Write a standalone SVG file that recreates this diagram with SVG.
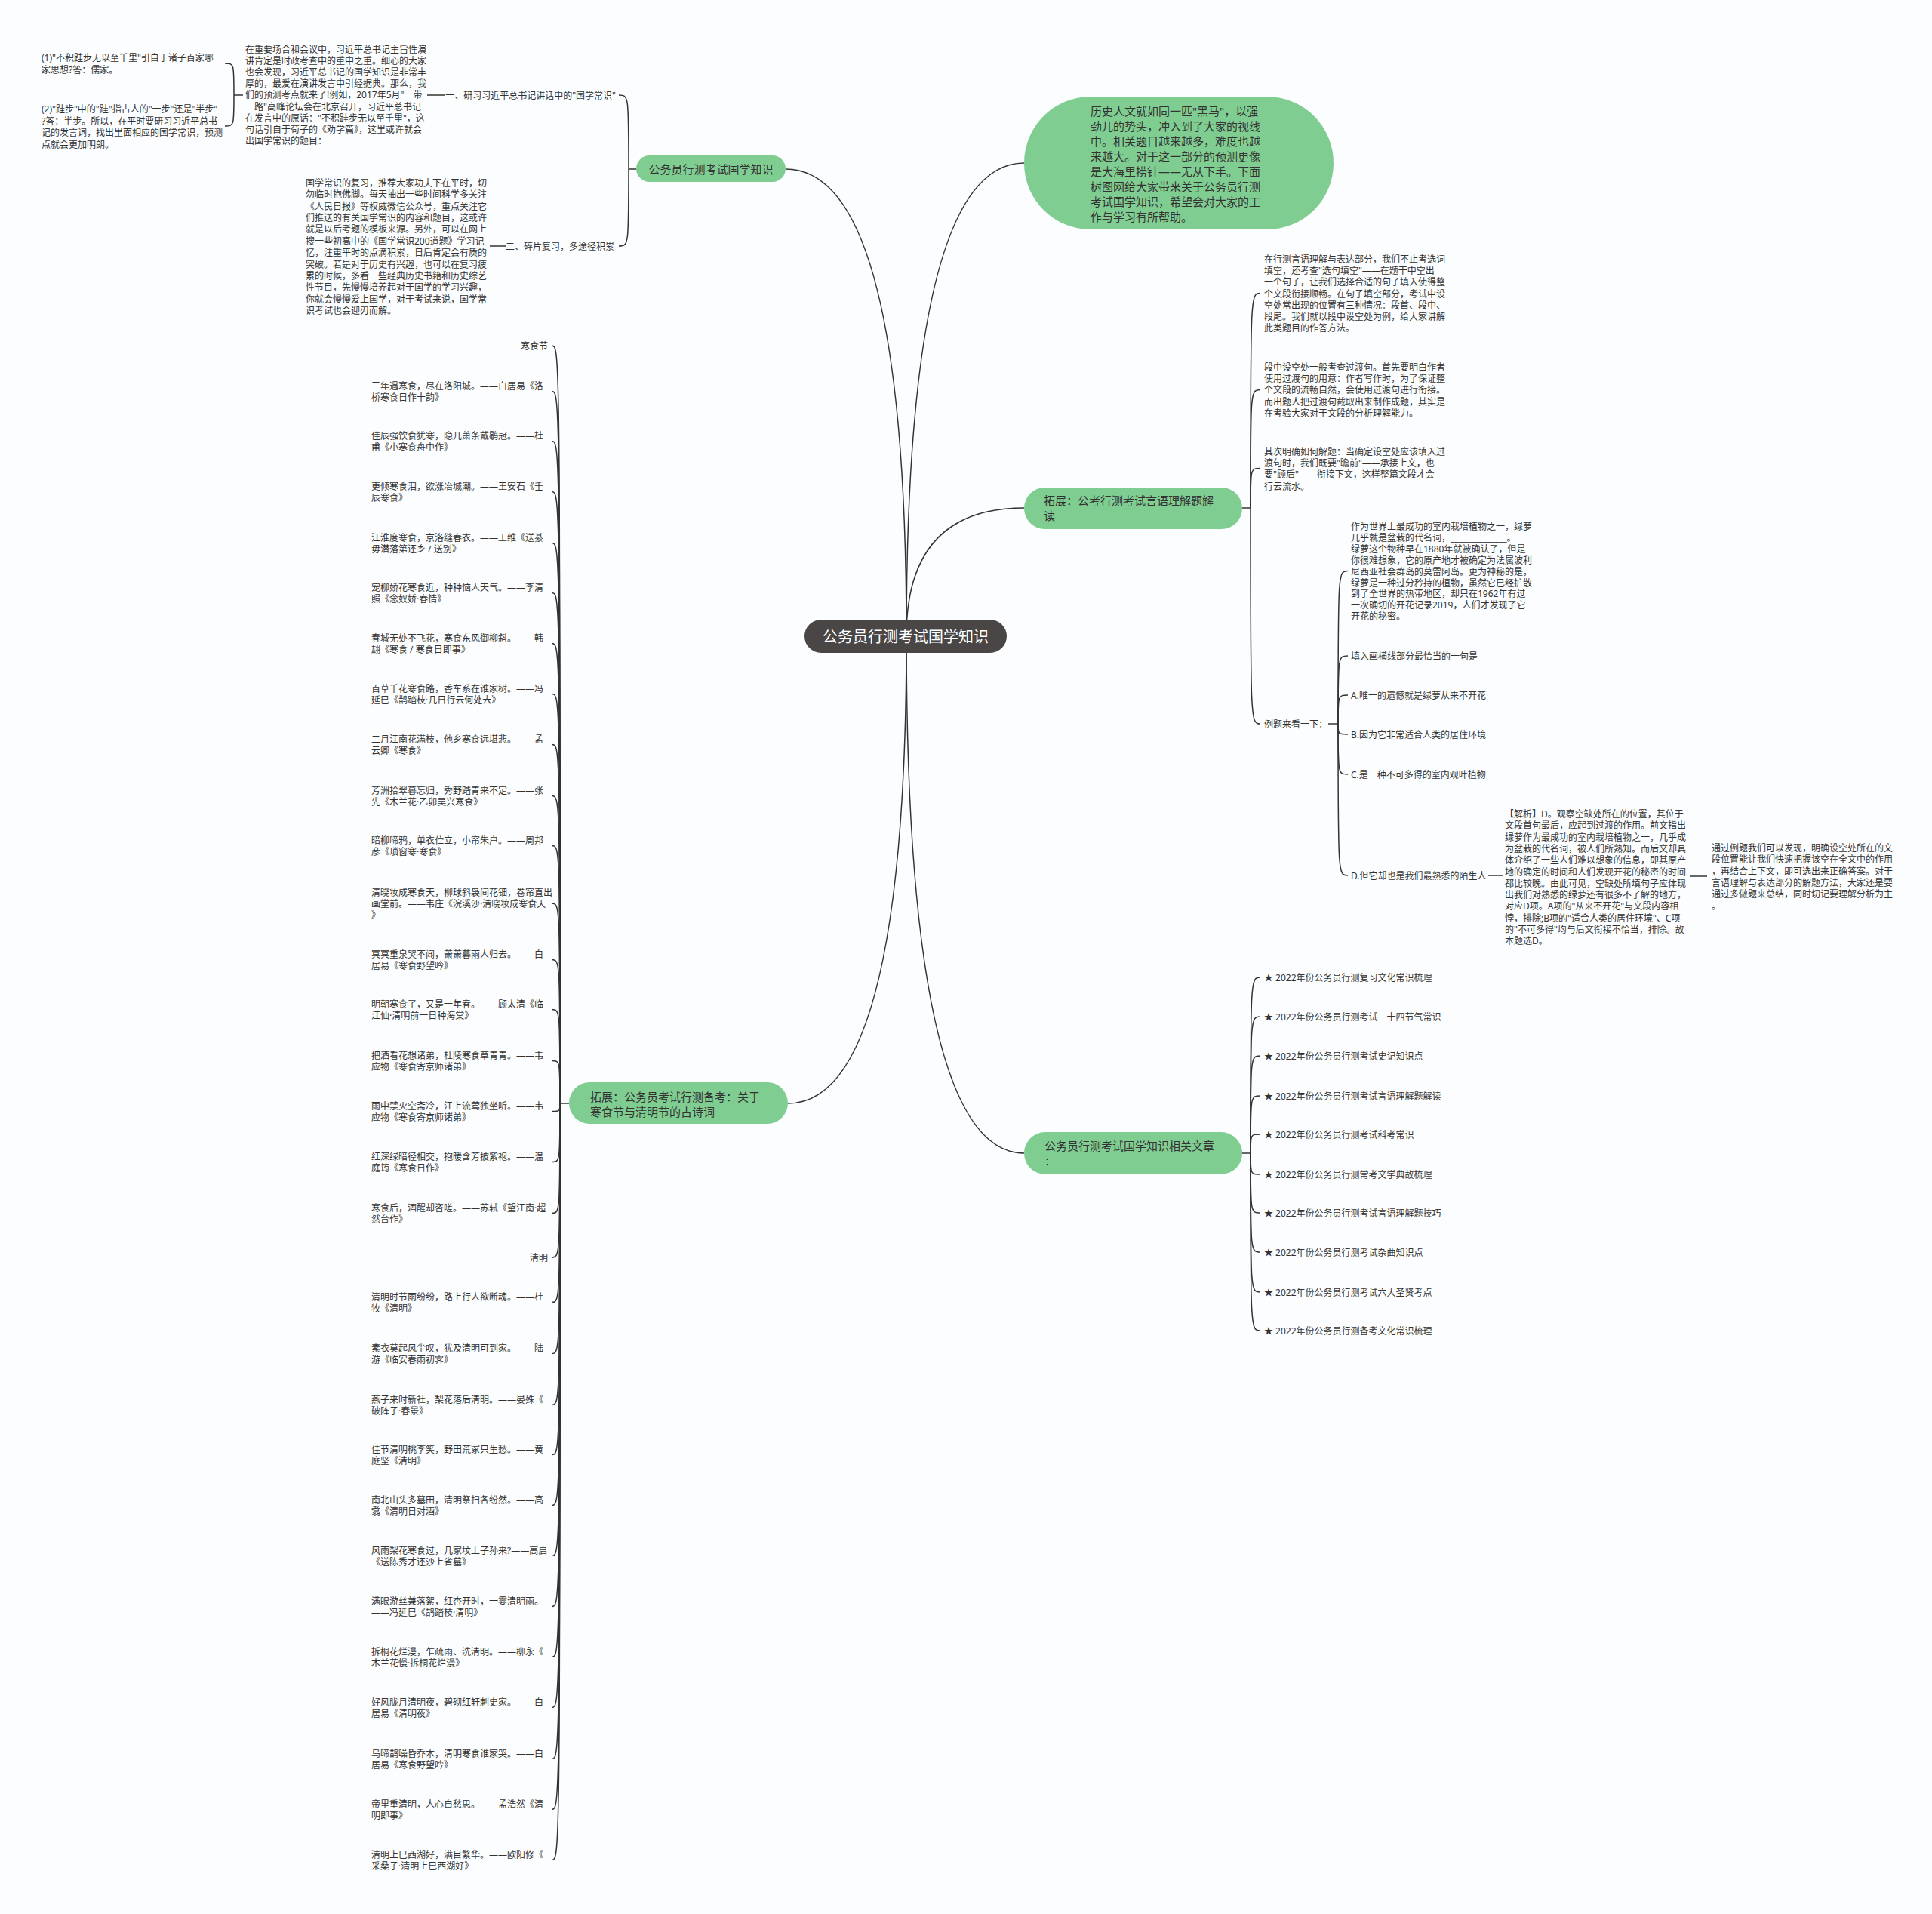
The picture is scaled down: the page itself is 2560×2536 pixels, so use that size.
<svg xmlns="http://www.w3.org/2000/svg" width="2560" height="2536" viewBox="0 0 2560 2536">
<style>
text{font-family:"Noto Sans","Noto Sans CJK SC",sans-serif;fill:#333;dominant-baseline:central}
.s{font-size:12px}
.m{font-size:15px}
.r{font-size:20px;fill:#fff;text-anchor:middle}
.g{fill:#80cd92}
.c{fill:none;stroke:#333;stroke-width:1.5}
.e{text-anchor:end}
</style>
<rect width="2560" height="2536" fill="#fbfdfe"/>
<g id="connectors" class="c">
<path d="M1201 843 Q1201 224 1041 224"/>
<path d="M1201 843 Q1201 216 1357 216"/>
<path d="M1201 843 Q1201 673 1357 673"/>
<path d="M1201 843 Q1201 1462 1044 1462"/>
<path d="M1201 843 Q1201 1528 1357 1528"/>
<path d="M843 224 H833"/>
<path d="M833 224 C833 126 833 126 820 126"/>
<path d="M833 224 C833 326 833 326 820 326"/>
<path d="M590 126 H566"/>
<path d="M670 326 H649"/>
<path d="M322 126 H310"/>
<path d="M310 126 C310 84 310 84 298 84"/>
<path d="M310 126 C310 167 310 167 298 167"/>
<path d="M1646 673 H1657"/>
<path d="M1657 673 C1657 388.5 1657 388.5 1670 388.5"/>
<path d="M1657 673 C1657 516.5 1657 516.5 1670 516.5"/>
<path d="M1657 673 C1657 620.5 1657 620.5 1670 620.5"/>
<path d="M1657 673 C1657 959 1657 959 1670 959"/>
<path d="M1760 959 H1773"/>
<path d="M1773 959 C1773 756.5 1773 756.5 1786 756.5"/>
<path d="M1773 959 C1773 869 1773 869 1786 869"/>
<path d="M1773 959 C1773 921 1773 921 1786 921"/>
<path d="M1773 959 C1773 973 1773 973 1786 973"/>
<path d="M1773 959 C1773 1026 1773 1026 1786 1026"/>
<path d="M1773 959 C1773 1160 1773 1160 1786 1160"/>
<path d="M1972 1160 H1992"/>
<path d="M2240 1161 H2262"/>
<path d="M1646 1528 H1657"/>
<path d="M1657 1528 C1657 1295 1657 1295 1670 1295"/>
<path d="M1657 1528 C1657 1347 1657 1347 1670 1347"/>
<path d="M1657 1528 C1657 1399 1657 1399 1670 1399"/>
<path d="M1657 1528 C1657 1452 1657 1452 1670 1452"/>
<path d="M1657 1528 C1657 1503 1657 1503 1670 1503"/>
<path d="M1657 1528 C1657 1556 1657 1556 1670 1556"/>
<path d="M1657 1528 C1657 1607 1657 1607 1670 1607"/>
<path d="M1657 1528 C1657 1659 1657 1659 1670 1659"/>
<path d="M1657 1528 C1657 1712 1657 1712 1670 1712"/>
<path d="M1657 1528 C1657 1763 1657 1763 1670 1763"/>
<path d="M754 1462 H742"/>
<path d="M742 1462 C742 458 742 458 731 458"/>
<path d="M742 1462 C742 518.5 742 518.5 731 518.5"/>
<path d="M742 1462 C742 584.5 742 584.5 731 584.5"/>
<path d="M742 1462 C742 651.5 742 651.5 731 651.5"/>
<path d="M742 1462 C742 719.5 742 719.5 731 719.5"/>
<path d="M742 1462 C742 785.5 742 785.5 731 785.5"/>
<path d="M742 1462 C742 852.5 742 852.5 731 852.5"/>
<path d="M742 1462 C742 919.5 742 919.5 731 919.5"/>
<path d="M742 1462 C742 986.5 742 986.5 731 986.5"/>
<path d="M742 1462 C742 1054.5 742 1054.5 731 1054.5"/>
<path d="M742 1462 C742 1120.5 742 1120.5 731 1120.5"/>
<path d="M742 1462 C742 1197 742 1197 731 1197"/>
<path d="M742 1462 C742 1271.5 742 1271.5 731 1271.5"/>
<path d="M742 1462 C742 1337.5 742 1337.5 731 1337.5"/>
<path d="M742 1462 C742 1405.5 742 1405.5 731 1405.5"/>
<path d="M742 1462 C742 1472.5 742 1472.5 731 1472.5"/>
<path d="M742 1462 C742 1539.5 742 1539.5 731 1539.5"/>
<path d="M742 1462 C742 1607.5 742 1607.5 731 1607.5"/>
<path d="M742 1462 C742 1666 742 1666 731 1666"/>
<path d="M742 1462 C742 1725.5 742 1725.5 731 1725.5"/>
<path d="M742 1462 C742 1793.5 742 1793.5 731 1793.5"/>
<path d="M742 1462 C742 1861.5 742 1861.5 731 1861.5"/>
<path d="M742 1462 C742 1927.5 742 1927.5 731 1927.5"/>
<path d="M742 1462 C742 1994.5 742 1994.5 731 1994.5"/>
<path d="M742 1462 C742 2061.5 742 2061.5 731 2061.5"/>
<path d="M742 1462 C742 2128.5 742 2128.5 731 2128.5"/>
<path d="M742 1462 C742 2195.5 742 2195.5 731 2195.5"/>
<path d="M742 1462 C742 2262.5 742 2262.5 731 2262.5"/>
<path d="M742 1462 C742 2330.5 742 2330.5 731 2330.5"/>
<path d="M742 1462 C742 2397.5 742 2397.5 731 2397.5"/>
<path d="M742 1462 C742 2464.5 742 2464.5 731 2464.5"/>
</g>

<g id="root"><rect x="1066" y="821" width="268" height="44" rx="22" fill="#4b4646"/><text class="r" x="1200" y="843">公务员行测考试国学知识</text></g>

<g id="nodeA"><rect class="g" x="843" y="206" width="198" height="35" rx="17.5"/><text class="m" x="942" y="223.5" text-anchor="middle">公务员行测考试国学知识</text></g>
<g id="a1"><text class="s e" x="816" y="126">一、研习习近平总书记讲话中的"国学常识"</text></g>
<g id="a1p"><text class="s"><tspan x="325" y="65">在重要场合和会议中，习近平总书记主旨性演</tspan><tspan x="325" y="80.1">讲肯定是时政考查中的重中之重。细心的大家</tspan><tspan x="325" y="95.2">也会发现，习近平总书记的国学知识是非常丰</tspan><tspan x="325" y="110.3">厚的，最爱在演讲发言中引经据典。那么，我</tspan><tspan x="325" y="125.4">们的预测考点就来了!例如，2017年5月"一带</tspan><tspan x="325" y="140.5">一路"高峰论坛会在北京召开，习近平总书记</tspan><tspan x="325" y="155.6">在发言中的原话："不积跬步无以至千里"，这</tspan><tspan x="325" y="170.7">句话引自于荀子的《劝学篇》，这里或许就会</tspan><tspan x="325" y="185.8">出国学常识的题目：</tspan></text></g>
<g id="a1q1"><text class="s"><tspan x="55" y="76">(1)"不积跬步无以至千里"引自于诸子百家哪</tspan><tspan x="55" y="91.5">家思想?答：儒家。</tspan></text></g>
<g id="a1q2"><text class="s"><tspan x="55" y="144">(2)"跬步"中的"跬"指古人的"一步"还是"半步"</tspan><tspan x="55" y="159.5">?答：半步。所以，在平时要研习习近平总书</tspan><tspan x="55" y="175">记的发言词，找出里面相应的国学常识，预测</tspan><tspan x="55" y="190.5">点就会更加明朗。</tspan></text></g>
<g id="a2"><text class="s e" x="814" y="326">二、碎片复习，多途径积累</text></g>
<g id="a2p"><text class="s"><tspan x="405" y="242">国学常识的复习，推荐大家功夫下在平时，切</tspan><tspan x="405" y="257.4">勿临时抱佛脚。每天抽出一些时间科学多关注</tspan><tspan x="405" y="272.7">《人民日报》等权威微信公众号，重点关注它</tspan><tspan x="405" y="288.1">们推送的有关国学常识的内容和题目，这或许</tspan><tspan x="405" y="303.4">就是以后考题的模板来源。另外，可以在网上</tspan><tspan x="405" y="318.8">搜一些初高中的《国学常识200道题》学习记</tspan><tspan x="405" y="334.2">忆，注重平时的点滴积累，日后肯定会有质的</tspan><tspan x="405" y="349.5">突破。若是对于历史有兴趣，也可以在复习疲</tspan><tspan x="405" y="364.9">累的时候，多看一些经典历史书籍和历史综艺</tspan><tspan x="405" y="380.2">性节目，先慢慢培养起对于国学的学习兴趣，</tspan><tspan x="405" y="395.6">你就会慢慢爱上国学，对于考试来说，国学常</tspan><tspan x="405" y="411">识考试也会迎刃而解。</tspan></text></g>

<g id="nodeB"><rect class="g" x="1357" y="128" width="410" height="176" rx="88"/><text class="m"><tspan x="1445" y="147">历史人文就如同一匹"黑马"，以强</tspan><tspan x="1445" y="167">劲儿的势头，冲入到了大家的视线</tspan><tspan x="1445" y="187">中。相关题目越来越多，难度也越</tspan><tspan x="1445" y="207">来越大。对于这一部分的预测更像</tspan><tspan x="1445" y="227">是大海里捞针——无从下手。下面</tspan><tspan x="1445" y="247">树图网给大家带来关于公务员行测</tspan><tspan x="1445" y="267">考试国学知识，希望会对大家的工</tspan><tspan x="1445" y="287">作与学习有所帮助。</tspan></text></g>

<g id="nodeC"><rect class="g" x="1357" y="646" width="289" height="55" rx="27.5"/><text class="m"><tspan x="1383" y="663">拓展：公考行测考试言语理解题解</tspan><tspan x="1383" y="683">读</tspan></text></g>
<g id="c1"><text class="s"><tspan x="1675" y="343">在行测言语理解与表达部分，我们不止考选词</tspan><tspan x="1675" y="358.2">填空，还考查"选句填空"——在题干中空出</tspan><tspan x="1675" y="373.4">一个句子，让我们选择合适的句子填入使得整</tspan><tspan x="1675" y="388.6">个文段衔接顺畅。在句子填空部分，考试中设</tspan><tspan x="1675" y="403.8">空处常出现的位置有三种情况：段首、段中、</tspan><tspan x="1675" y="419">段尾。我们就以段中设空处为例，给大家讲解</tspan><tspan x="1675" y="434.2">此类题目的作答方法。</tspan></text></g>
<g id="c2"><text class="s"><tspan x="1675" y="486">段中设空处一般考查过渡句。首先要明白作者</tspan><tspan x="1675" y="501.2">使用过渡句的用意：作者写作时，为了保证整</tspan><tspan x="1675" y="516.4">个文段的流畅自然，会使用过渡句进行衔接。</tspan><tspan x="1675" y="531.6">而出题人把过渡句截取出来制作成题，其实是</tspan><tspan x="1675" y="546.8">在考验大家对于文段的分析理解能力。</tspan></text></g>
<g id="c3"><text class="s"><tspan x="1675" y="598">其次明确如何解题：当确定设空处应该填入过</tspan><tspan x="1675" y="613.2">渡句时，我们既要"瞻前"——承接上文，也</tspan><tspan x="1675" y="628.4">要"顾后"——衔接下文，这样整篇文段才会</tspan><tspan x="1675" y="643.6">行云流水。</tspan></text></g>
<g id="c4"><text class="s" x="1675" y="959">例题来看一下：</text></g>
<g id="c4a"><text class="s"><tspan x="1790" y="697">作为世界上最成功的室内栽培植物之一，绿萝</tspan><tspan x="1790" y="711.9">几乎就是盆栽的代名词，______________。</tspan><tspan x="1790" y="726.8">绿萝这个物种早在1880年就被确认了，但是</tspan><tspan x="1790" y="741.7">你很难想象，它的原产地才被确定为法属波利</tspan><tspan x="1790" y="756.6">尼西亚社会群岛的莫雷阿岛。更为神秘的是，</tspan><tspan x="1790" y="771.5">绿萝是一种过分矜持的植物，虽然它已经扩散</tspan><tspan x="1790" y="786.4">到了全世界的热带地区，却只在1962年有过</tspan><tspan x="1790" y="801.3">一次确切的开花记录2019，人们才发现了它</tspan><tspan x="1790" y="816.2">开花的秘密。</tspan></text></g>
<g id="c4b"><text class="s" x="1790" y="869">填入画横线部分最恰当的一句是</text></g>
<g id="c4c"><text class="s" x="1790" y="921">A.唯一的遗憾就是绿萝从来不开花</text></g>
<g id="c4d"><text class="s" x="1790" y="973">B.因为它非常适合人类的居住环境</text></g>
<g id="c4e"><text class="s" x="1790" y="1026">C.是一种不可多得的室内观叶植物</text></g>
<g id="c4f"><text class="s" x="1790" y="1160">D.但它却也是我们最熟悉的陌生人</text></g>
<g id="c4g"><text class="s"><tspan x="1994" y="1078">【解析】D。观察空缺处所在的位置，其位于</tspan><tspan x="1994" y="1093.3">文段首句最后，应起到过渡的作用。前文指出</tspan><tspan x="1994" y="1108.6">绿萝作为最成功的室内栽培植物之一，几乎成</tspan><tspan x="1994" y="1123.9">为盆栽的代名词，被人们所熟知。而后文却具</tspan><tspan x="1994" y="1139.2">体介绍了一些人们难以想象的信息，即其原产</tspan><tspan x="1994" y="1154.5">地的确定的时间和人们发现开花的秘密的时间</tspan><tspan x="1994" y="1169.8">都比较晚。由此可见，空缺处所填句子应体现</tspan><tspan x="1994" y="1185.1">出我们对熟悉的绿萝还有很多不了解的地方，</tspan><tspan x="1994" y="1200.4">对应D项。A项的"从来不开花"与文段内容相</tspan><tspan x="1994" y="1215.7">悖，排除;B项的"适合人类的居住环境"、C项</tspan><tspan x="1994" y="1231">的"不可多得"均与后文衔接不恰当，排除。故</tspan><tspan x="1994" y="1246.3">本题选D。</tspan></text></g>
<g id="c4h"><text class="s"><tspan x="2268" y="1123">通过例题我们可以发现，明确设空处所在的文</tspan><tspan x="2268" y="1138.3">段位置能让我们快速把握该空在全文中的作用</tspan><tspan x="2268" y="1153.6">，再结合上下文，即可选出来正确答案。对于</tspan><tspan x="2268" y="1168.9">言语理解与表达部分的解题方法，大家还是要</tspan><tspan x="2268" y="1184.2">通过多做题来总结，同时切记要理解分析为主</tspan><tspan x="2268" y="1199.5">。</tspan></text></g>

<g id="nodeD"><rect class="g" x="1357" y="1500" width="289" height="56" rx="28"/><text class="m"><tspan x="1384" y="1518">公务员行测考试国学知识相关文章</tspan><tspan x="1384" y="1538">：</tspan></text></g>
<g id="d1"><text class="s" x="1675" y="1295">★ 2022年份公务员行测复习文化常识梳理</text></g>
<g id="d2"><text class="s" x="1675" y="1347">★ 2022年份公务员行测考试二十四节气常识</text></g>
<g id="d3"><text class="s" x="1675" y="1399">★ 2022年份公务员行测考试史记知识点</text></g>
<g id="d4"><text class="s" x="1675" y="1452">★ 2022年份公务员行测考试言语理解题解读</text></g>
<g id="d5"><text class="s" x="1675" y="1503">★ 2022年份公务员行测考试科考常识</text></g>
<g id="d6"><text class="s" x="1675" y="1556">★ 2022年份公务员行测常考文学典故梳理</text></g>
<g id="d7"><text class="s" x="1675" y="1607">★ 2022年份公务员行测考试言语理解题技巧</text></g>
<g id="d8"><text class="s" x="1675" y="1659">★ 2022年份公务员行测考试杂曲知识点</text></g>
<g id="d9"><text class="s" x="1675" y="1712">★ 2022年份公务员行测考试六大圣贤考点</text></g>
<g id="d10"><text class="s" x="1675" y="1763">★ 2022年份公务员行测备考文化常识梳理</text></g>

<g id="nodeE"><rect class="g" x="754" y="1434" width="290" height="55" rx="27.5"/><text class="m"><tspan x="782" y="1453">拓展：公务员考试行测备考：关于</tspan><tspan x="782" y="1473">寒食节与清明节的古诗词</tspan></text></g>
<g id="e1"><text class="s e" x="726" y="458">寒食节</text></g>
<g id="e2"><text class="s"><tspan x="492" y="511">三年遇寒食，尽在洛阳城。——白居易《洛</tspan><tspan x="492" y="526">桥寒食日作十韵》</tspan></text></g>
<g id="e3"><text class="s"><tspan x="492" y="577">佳辰强饮食犹寒，隐几萧条戴鹖冠。——杜</tspan><tspan x="492" y="592">甫《小寒食舟中作》</tspan></text></g>
<g id="e4"><text class="s"><tspan x="492" y="644">更倾寒食泪，欲涨冶城潮。——王安石《壬</tspan><tspan x="492" y="659">辰寒食》</tspan></text></g>
<g id="e5"><text class="s"><tspan x="492" y="712">江淮度寒食，京洛缝春衣。——王维《送綦</tspan><tspan x="492" y="727">毋潜落第还乡 / 送别》</tspan></text></g>
<g id="e6"><text class="s"><tspan x="492" y="778">宠柳娇花寒食近，种种恼人天气。——李清</tspan><tspan x="492" y="793">照《念奴娇·春情》</tspan></text></g>
<g id="e7"><text class="s"><tspan x="492" y="845">春城无处不飞花，寒食东风御柳斜。——韩</tspan><tspan x="492" y="860">翃《寒食 / 寒食日即事》</tspan></text></g>
<g id="e8"><text class="s"><tspan x="492" y="912">百草千花寒食路，香车系在谁家树。——冯</tspan><tspan x="492" y="927">延巳《鹊踏枝·几日行云何处去》</tspan></text></g>
<g id="e9"><text class="s"><tspan x="492" y="979">二月江南花满枝，他乡寒食远堪悲。——孟</tspan><tspan x="492" y="994">云卿《寒食》</tspan></text></g>
<g id="e10"><text class="s"><tspan x="492" y="1047">芳洲拾翠暮忘归，秀野踏青来不定。——张</tspan><tspan x="492" y="1062">先《木兰花·乙卯吴兴寒食》</tspan></text></g>
<g id="e11"><text class="s"><tspan x="492" y="1113">暗柳啼鸦，单衣伫立，小帘朱户。——周邦</tspan><tspan x="492" y="1128">彦《琐窗寒·寒食》</tspan></text></g>
<g id="e12"><text class="s"><tspan x="492" y="1182">清晓妆成寒食天，柳球斜袅间花钿，卷帘直出</tspan><tspan x="492" y="1197">画堂前。——韦庄《浣溪沙·清晓妆成寒食天</tspan><tspan x="492" y="1212">》</tspan></text></g>
<g id="e13"><text class="s"><tspan x="492" y="1264">冥冥重泉哭不闻，萧萧暮雨人归去。——白</tspan><tspan x="492" y="1279">居易《寒食野望吟》</tspan></text></g>
<g id="e14"><text class="s"><tspan x="492" y="1330">明朝寒食了，又是一年春。——顾太清《临</tspan><tspan x="492" y="1345">江仙·清明前一日种海棠》</tspan></text></g>
<g id="e15"><text class="s"><tspan x="492" y="1398">把酒看花想诸弟，杜陵寒食草青青。——韦</tspan><tspan x="492" y="1413">应物《寒食寄京师诸弟》</tspan></text></g>
<g id="e16"><text class="s"><tspan x="492" y="1465">雨中禁火空斋冷，江上流莺独坐听。——韦</tspan><tspan x="492" y="1480">应物《寒食寄京师诸弟》</tspan></text></g>
<g id="e17"><text class="s"><tspan x="492" y="1532">红深绿暗径相交，抱暖含芳披紫袍。——温</tspan><tspan x="492" y="1547">庭筠《寒食日作》</tspan></text></g>
<g id="e18"><text class="s"><tspan x="492" y="1600">寒食后，酒醒却咨嗟。——苏轼《望江南·超</tspan><tspan x="492" y="1615">然台作》</tspan></text></g>
<g id="e19"><text class="s e" x="726" y="1666">清明</text></g>
<g id="e20"><text class="s"><tspan x="492" y="1718">清明时节雨纷纷，路上行人欲断魂。——杜</tspan><tspan x="492" y="1733">牧《清明》</tspan></text></g>
<g id="e21"><text class="s"><tspan x="492" y="1786">素衣莫起风尘叹，犹及清明可到家。——陆</tspan><tspan x="492" y="1801">游《临安春雨初霁》</tspan></text></g>
<g id="e22"><text class="s"><tspan x="492" y="1854">燕子来时新社，梨花落后清明。——晏殊《</tspan><tspan x="492" y="1869">破阵子·春景》</tspan></text></g>
<g id="e23"><text class="s"><tspan x="492" y="1920">佳节清明桃李笑，野田荒冢只生愁。——黄</tspan><tspan x="492" y="1935">庭坚《清明》</tspan></text></g>
<g id="e24"><text class="s"><tspan x="492" y="1987">南北山头多墓田，清明祭扫各纷然。——高</tspan><tspan x="492" y="2002">翥《清明日对酒》</tspan></text></g>
<g id="e25"><text class="s"><tspan x="492" y="2054">风雨梨花寒食过，几家坟上子孙来?——高启</tspan><tspan x="492" y="2069">《送陈秀才还沙上省墓》</tspan></text></g>
<g id="e26"><text class="s"><tspan x="492" y="2121">满眼游丝兼落絮，红杏开时，一霎清明雨。</tspan><tspan x="492" y="2136">——冯延巳《鹊踏枝·清明》</tspan></text></g>
<g id="e27"><text class="s"><tspan x="492" y="2188">拆桐花烂漫，乍疏雨、洗清明。——柳永《</tspan><tspan x="492" y="2203">木兰花慢·拆桐花烂漫》</tspan></text></g>
<g id="e28"><text class="s"><tspan x="492" y="2255">好风胧月清明夜，碧砌红轩刺史家。——白</tspan><tspan x="492" y="2270">居易《清明夜》</tspan></text></g>
<g id="e29"><text class="s"><tspan x="492" y="2323">乌啼鹊噪昏乔木，清明寒食谁家哭。——白</tspan><tspan x="492" y="2338">居易《寒食野望吟》</tspan></text></g>
<g id="e30"><text class="s"><tspan x="492" y="2390">帝里重清明，人心自愁思。——孟浩然《清</tspan><tspan x="492" y="2405">明即事》</tspan></text></g>
<g id="e31"><text class="s"><tspan x="492" y="2457">清明上巳西湖好，满目繁华。——欧阳修《</tspan><tspan x="492" y="2472">采桑子·清明上巳西湖好》</tspan></text></g>
</svg>
